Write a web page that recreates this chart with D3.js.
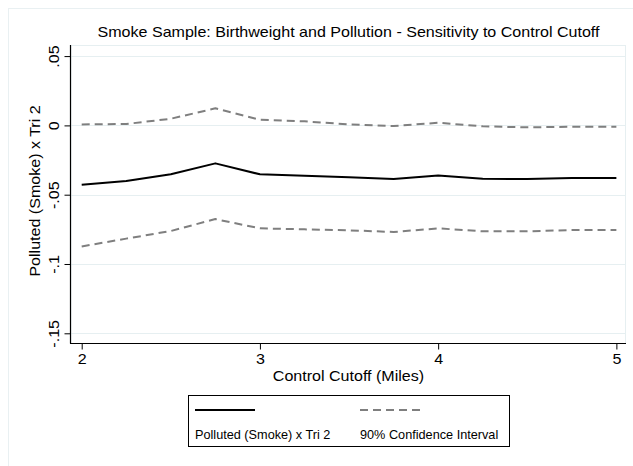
<!DOCTYPE html>
<html>
<head>
<meta charset="utf-8">
<script src="https://cdn.jsdelivr.net/npm/d3@7"></script>
<style>
  html, body { margin: 0; padding: 0; background: #ffffff; }
  svg { display: block; }
  text { font-family: "Liberation Sans", Arial, sans-serif; fill: #000; }
</style>
</head>
<body>
<svg id="chart" width="633" height="466"></svg>
<script>
// Control cutoff distances (miles)
const cutoffs = [2, 2.25, 2.5, 2.75, 3, 3.25, 3.5, 3.75, 4, 4.25, 4.5, 4.75, 5];
// Point estimate: Polluted (Smoke) x Tri 2
const estimate = [-0.0428, -0.0402, -0.0353, -0.0274, -0.0353, -0.0363, -0.0375, -0.0387, -0.0361, -0.0385, -0.0387, -0.0380, -0.0380];
// 90% confidence bounds
const upperCI = [0.0007, 0.0010, 0.0048, 0.0123, 0.0041, 0.0029, 0.0007, -0.0005, 0.0019, -0.0007, -0.0014, -0.0010, -0.0010];
const lowerCI = [-0.0873, -0.0817, -0.0762, -0.0676, -0.0743, -0.0750, -0.0757, -0.0769, -0.0743, -0.0764, -0.0764, -0.0755, -0.0755];
// Axis ticks
const xTicks = [2, 3, 4, 5];
const yTicks = [0.05, 0, -0.05, -0.1, -0.15];
const yTickLabels = [".05", "0", "-.05", "-.1", "-.15"];

const svg = d3.select("#chart");
const plot = { left: 71, right: 626, top: 45, bottom: 343 };
const FONT = 15;       // main text size
const WIDEN = 1.07;    // slightly wider glyphs for the main text

// Stretch text horizontally by a factor, keeping its anchor
function widen(sel, factor) {
  sel.each(function () {
    const len = this.getComputedTextLength();
    d3.select(this)
      .attr("textLength", len * factor)
      .attr("lengthAdjust", "spacingAndGlyphs");
  });
}

const x = d3.scaleLinear().domain([1.94, 5.054]).range([plot.left, plot.right]);
const y = d3.scaleLinear().domain([-0.157, 0.058]).range([plot.bottom, plot.top]);

// Outer graph frame
svg.append("rect")
  .attr("x", 8.5).attr("y", 8.5).attr("width", 640).attr("height", 470)
  .attr("fill", "#ffffff").attr("stroke", "#e9f0f2").attr("stroke-width", 1);

// Plot region
svg.append("rect")
  .attr("x", plot.left).attr("y", plot.top + 0.5)
  .attr("width", plot.right - plot.left - 0.5).attr("height", plot.bottom - plot.top)
  .attr("fill", "#ffffff").attr("stroke", "#e6eff1").attr("stroke-width", 1);

// Horizontal gridlines
svg.append("g")
  .selectAll("line")
  .data(yTicks)
  .join("line")
  .attr("x1", plot.left).attr("x2", plot.right)
  .attr("y1", d => Math.round(y(d)) + 0.5).attr("y2", d => Math.round(y(d)) + 0.5)
  .attr("stroke", "#e6eff1").attr("stroke-width", 1);

// Y axis
const yAxis = d3.axisLeft(y)
  .tickValues(yTicks)
  .tickFormat((d, i) => yTickLabels[i])
  .tickSize(6)
  .tickPadding(6);
const gy = svg.append("g")
  .attr("transform", `translate(${plot.left - 0.5},0)`)
  .call(yAxis);
gy.select(".domain").attr("d", `M0,${plot.top}V${plot.bottom + 0.5}`).attr("stroke", "#000").attr("stroke-width", 1.2);
gy.selectAll(".tick line").attr("stroke", "#000").attr("stroke-width", 1);
gy.selectAll(".tick text")
  .attr("font-size", FONT)
  .attr("font-family", "Liberation Sans, Arial, sans-serif")
  .attr("text-anchor", "middle")
  .attr("x", null).attr("dy", null)
  .attr("transform", "translate(-12,0) rotate(-90)")
  .call(widen, WIDEN);

// X axis
const xAxis = d3.axisBottom(x)
  .tickValues(xTicks)
  .tickFormat(d3.format("d"))
  .tickSize(6)
  .tickPadding(4);
const gx = svg.append("g")
  .attr("transform", `translate(0,${plot.bottom + 0.5})`)
  .call(xAxis);
gx.select(".domain").attr("d", `M${plot.left - 1},0H${plot.right}`).attr("stroke", "#000").attr("stroke-width", 1.2);
gx.selectAll(".tick line").attr("stroke", "#000").attr("stroke-width", 1);
gx.selectAll(".tick text")
  .attr("font-size", FONT)
  .attr("font-family", "Liberation Sans, Arial, sans-serif")
  .attr("dy", null)
  .attr("y", 20.5)
  .call(widen, WIDEN);

// Series lines
const line = d3.line()
  .x((d, i) => x(cutoffs[i]))
  .y(d => y(d));

const series = [
  { values: upperCI, color: "#7f7f7f", dash: "8,5" },
  { values: lowerCI, color: "#7f7f7f", dash: "8,5" },
  { values: estimate, color: "#000000", dash: null }
];
svg.append("g")
  .selectAll("path")
  .data(series)
  .join("path")
  .attr("d", d => line(d.values))
  .attr("fill", "none")
  .attr("stroke", d => d.color)
  .attr("stroke-width", 2)
  .attr("stroke-dasharray", d => d.dash)
  .attr("stroke-linejoin", "round");

// Title
svg.append("text")
  .attr("x", (plot.left + plot.right) / 2)
  .attr("y", 37)
  .attr("text-anchor", "middle")
  .attr("font-size", FONT)
  .text("Smoke Sample: Birthweight and Pollution - Sensitivity to Control Cutoff")
  .call(widen, WIDEN);

// Axis titles
svg.append("text")
  .attr("x", (plot.left + plot.right) / 2)
  .attr("y", 381)
  .attr("text-anchor", "middle")
  .attr("font-size", FONT)
  .text("Control Cutoff (Miles)")
  .call(widen, WIDEN);

svg.append("text")
  .attr("transform", `translate(40,${(plot.top + plot.bottom) / 2 - 3}) rotate(-90)`)
  .attr("text-anchor", "middle")
  .attr("font-size", FONT)
  .text("Polluted (Smoke) x Tri 2")
  .call(widen, WIDEN);

// Legend
const legend = svg.append("g");
legend.append("rect")
  .attr("x", 188.5).attr("y", 395.5).attr("width", 321).attr("height", 51)
  .attr("fill", "#ffffff").attr("stroke", "#000").attr("stroke-width", 1);

const legendItems = [
  { label: "Polluted (Smoke) x Tri 2", color: "#000000", dash: null, x0: 195 },
  { label: "90% Confidence Interval", color: "#7f7f7f", dash: "8,5", x0: 360 }
];
legendItems.forEach(item => {
  legend.append("line")
    .attr("x1", item.x0).attr("x2", item.x0 + 60)
    .attr("y1", 410).attr("y2", 410)
    .attr("stroke", item.color).attr("stroke-width", 2)
    .attr("stroke-dasharray", item.dash);
  legend.append("text")
    .attr("x", item.x0).attr("y", 439)
    .attr("font-size", 12.7)
    .text(item.label);
});
</script>
</body>
</html>
